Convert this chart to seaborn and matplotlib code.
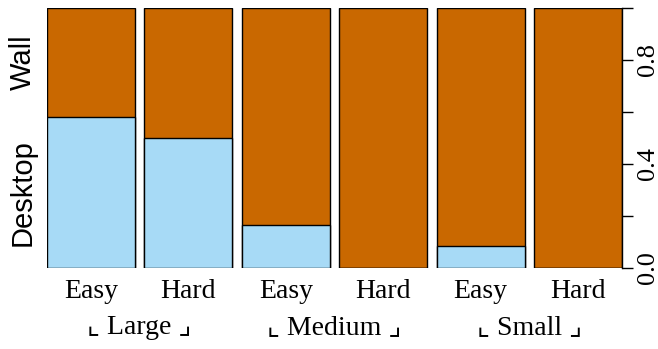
import matplotlib
matplotlib.use("Agg")
import matplotlib.pyplot as plt
import matplotlib.transforms as mtransforms
import seaborn as sns
import pandas as pd

# data
conditions = ["Large-Easy", "Large-Hard", "Medium-Easy", "Medium-Hard", "Small-Easy", "Small-Hard"]
tick_labels = ["Easy", "Hard", "Easy", "Hard", "Easy", "Hard"]
groups = ["Large", "Medium", "Small"]
desktop_share = [0.58, 0.50, 0.165, 0.0, 0.085, 0.0]
wall_share = [1 - d for d in desktop_share]
y_ticks = [0.0, 0.2, 0.4, 0.6, 0.8, 1.0]
y_tick_labels = ["0.0", "", "0.4", "", "0.8", ""]

df = pd.DataFrame({"cond": conditions, "desktop": desktop_share,
                   "total": [d + w for d, w in zip(desktop_share, wall_share)]})

orange = "#C96800"
blue = "#A7DAF6"
serif = ["Liberation Serif", "DejaVu Serif"]
sans = ["Liberation Sans", "DejaVu Sans"]

sns.set_style("white")
plt.rcParams["font.family"] = serif
plt.rcParams["text.color"] = "black"
plt.rcParams["xtick.color"] = "black"
plt.rcParams["ytick.color"] = "black"

fig = plt.figure(figsize=(6.58, 3.49), dpi=100)
ax = fig.add_axes([47 / 658, 1 - 268 / 349, (622 - 47) / 658, 260 / 349])

sns.barplot(data=df, x="cond", y="total", ax=ax, color=orange, saturation=1,
            width=0.9, edgecolor="black", linewidth=1.0)
sns.barplot(data=df, x="cond", y="desktop", ax=ax, color=blue, saturation=1,
            width=0.9, edgecolor="black", linewidth=1.0)

ax.set_xlim(-0.45, 5.45)
ax.set_ylim(0, 1)
ax.set_xlabel("")
ax.set_ylabel("")

for s in ["top", "left", "bottom"]:
    ax.spines[s].set_visible(False)
ax.spines["right"].set_visible(True)
ax.spines["right"].set_color("black")
ax.spines["right"].set_linewidth(1.0)

ax.yaxis.tick_right()
ax.set_yticks(y_ticks)
ax.set_yticklabels(y_tick_labels, rotation=90, va="center", fontsize=19, color="black")
ax.tick_params(axis="y", direction="out", length=8, width=1, color="black", pad=3)

ax.set_xticks(range(len(conditions)))
ax.set_xticklabels(tick_labels, fontsize=20, color="black")
ax.tick_params(axis="x", length=0, pad=8)

# group labels under pairs of bars
trans = mtransforms.blended_transform_factory(ax.transData, fig.transFigure)
for i, g in enumerate(groups):
    ax.text(2 * i + 0.5, 1 - 328 / 349, "\u231e " + g + " \u231f", transform=trans,
            ha="center", va="center", fontsize=20, color="black",
            family=serif + ["DejaVu Sans"])

# category labels on the left, centred on first bar's segments
trans2 = mtransforms.blended_transform_factory(fig.transFigure, ax.transData)
ax.text(23 / 658, desktop_share[0] / 2, "Desktop", transform=trans2, rotation=90,
        ha="center", va="center", fontsize=21, color="black", family=sans)
ax.text(23 / 658, desktop_share[0] + wall_share[0] / 2, "Wall", transform=trans2,
        rotation=90, ha="center", va="center", fontsize=21, color="black", family=sans)

fig.savefig("out.png", dpi=100)
